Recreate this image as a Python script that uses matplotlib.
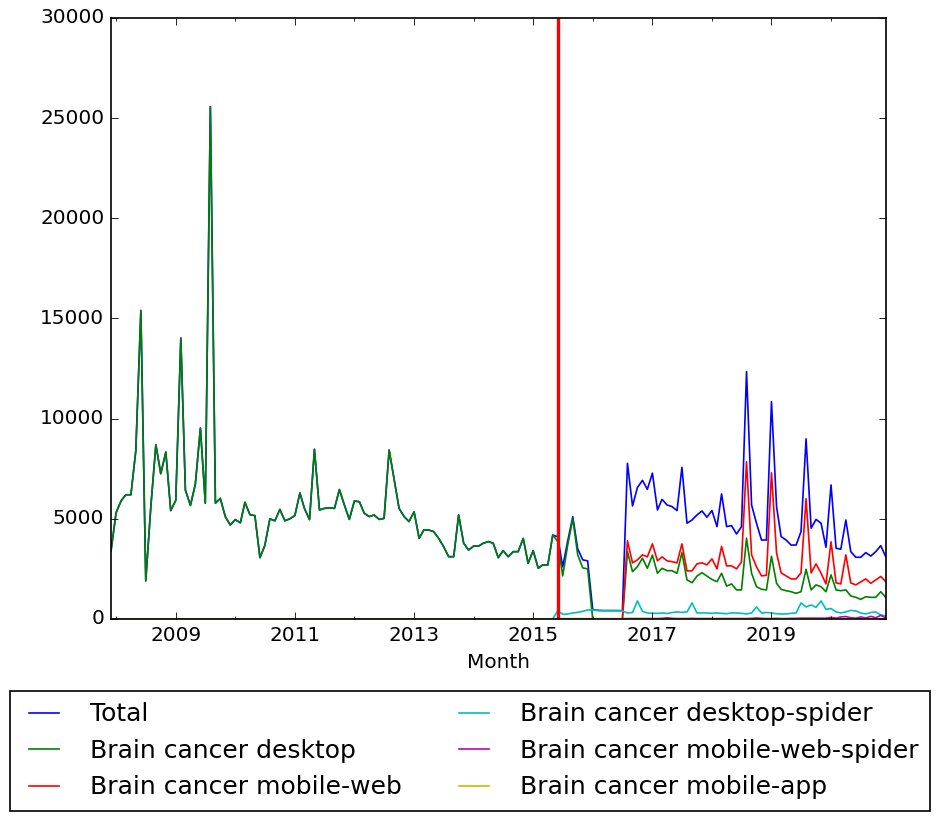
import pandas as pd
import numpy as np
import matplotlib
matplotlib.use('Agg')
import matplotlib.pyplot as plt
import matplotlib.dates as mdates
import matplotlib.ticker as mticker

# monthly page views, Dec 2007 .. Dec 2020
months = pd.date_range('2007-12-01', periods=157, freq='MS')

desktop = [
    3400, 5300, 5900, 6200, 6200, 8400, 15400, 1900, 5600, 8700,
    7250, 8330, 5410, 5920, 14020, 6430, 5670, 6730, 9530, 5780,
    25570, 5780, 6020, 5100, 4690, 4960, 4800, 5820, 5200, 5160,
    3060, 3670, 5000, 4900, 5470, 4900, 5000, 5160, 6290, 5510,
    4960, 8470, 5440, 5520, 5550, 5520, 6460, 5680, 4970, 5890,
    5850, 5280, 5110, 5190, 4970, 5020, 8430, 6940, 5520, 5110,
    4860, 5350, 4020, 4440, 4440, 4360, 4020, 3610, 3110, 3110,
    5190, 3780, 3440, 3640, 3640, 3780, 3860, 3780, 3060, 3410,
    3110, 3360, 3360, 4020, 2780, 3410, 2530, 2700, 2700, 4190,
    3860, 2150, 3700, 5000, 3200, 2550, 2500,
    0, 0, 0, 0, 0, 0, 0,
    3360, 2360, 2610, 3030, 2530, 3190, 2280, 2530, 2410, 2410,
    2280, 3310, 1950, 1810, 2140, 2310, 2140, 1970, 1860, 2280,
    1640, 1750, 1450, 1450, 4030, 2280, 1610, 1480, 1450, 3130,
    1780, 1480, 1410, 1360, 1280, 1360, 2480, 1450, 1700, 1610,
    1360, 2200, 1450, 1410, 1450, 1150, 1080, 980, 1110, 1080,
    1080, 1360, 1080,
]

mobile_web = [0] * 104 + [
    3900, 2800, 2950, 3200, 3100, 3750, 2900, 3100, 2900, 2860,
    2800, 3750, 2400, 2400, 2750, 2800, 2700, 3000, 2500, 3620,
    2650, 2650, 2500, 2850, 7850, 3200, 2600, 2150, 2180, 7300,
    3300, 2300, 2150, 2000, 2000, 2300, 6000, 2300, 2750, 2280,
    1750, 3850, 1800, 1750, 3200, 1800, 1700, 1850, 2000, 1780,
    1950, 2120, 1870,
]

desktop_spider = [0] * 90 + [
    416, 230, 250, 300, 330, 380, 450, 450, 420, 410,
    410, 410, 410, 400, 300, 320, 900, 380, 300, 280,
    280, 300, 270, 320, 350, 330, 350, 800, 300, 300,
    300, 280, 300, 280, 260, 300, 300, 280, 250, 300,
    600, 300, 320, 300, 260, 250, 250, 280, 300, 800,
    600, 700, 580, 900, 480, 520, 350, 300, 350, 430,
    400, 300, 250, 320, 350, 200, 150,
]

mobile_web_spider = [0] * 90 + [
    10, 10, 15, 15, 10, 10, 10, 10, 10, 10,
    10, 10, 10, 10, 20, 20, 25, 20, 20, 20,
    20, 30, 60, 30, 20, 20, 20, 30, 20, 20,
    20, 20, 20, 20, 20, 20, 20, 20, 20, 30,
    50, 30, 20, 20, 30, 20, 20, 30, 30, 40,
    40, 40, 40, 40, 40, 80, 40, 100, 120, 60,
    40, 100, 50, 130, 60, 180, 60,
]

mobile_app = [0] * 90 + [10] * 67

total = desktop[:90] + [
    4100, 2600, 3900, 5100, 3500, 2950, 2900,
    470, 430, 420, 420, 420, 420, 410,
    7770, 5640, 6560, 6920, 6470, 7280, 5440, 5970, 5690, 5610,
    5410, 7570, 4780, 4940, 5190, 5390, 5080, 5410, 4610, 6240,
    4610, 4660, 4240, 4610, 12350, 5690, 4780, 3940, 3940, 10850,
    5610, 4110, 3940, 3690, 3690, 4360, 8990, 4530, 4970, 4780,
    3580, 6690, 3530, 3480, 4940, 3360, 3080, 3080, 3310, 3140,
    3360, 3660, 3110,
]

series = [
    ('Total', total, 'b'),
    ('Brain cancer desktop', desktop, 'g'),
    ('Brain cancer mobile-web', mobile_web, 'r'),
    ('Brain cancer desktop-spider', desktop_spider, 'c'),
    ('Brain cancer mobile-web-spider', mobile_web_spider, 'm'),
    ('Brain cancer mobile-app', mobile_app, 'y'),
]

plt.style.use('classic')
plt.rcParams['figure.facecolor'] = 'white'
plt.rcParams['savefig.facecolor'] = 'white'

fig = plt.figure(figsize=(940 / 120, 817 / 120), dpi=120)
ax = fig.add_axes([0.1181, 0.2424, 0.8241, 0.7356])

for name, vals, col in series:
    ax.plot(months, vals, color=col, linewidth=1.0, label=name)

ax.axvline(pd.Timestamp('2015-06-01'), color='r', linewidth=2)

ax.set_xlim(months[0], months[-1])
ax.set_ylim(0, 30000)
ax.yaxis.set_major_locator(mticker.MultipleLocator(5000))

major_years = [pd.Timestamp(f'{y}-01-01') for y in range(2009, 2021, 2)]
ax.xaxis.set_major_locator(mticker.FixedLocator(mdates.date2num(major_years)))
ax.xaxis.set_minor_locator(mdates.YearLocator(1))
ax.xaxis.set_major_formatter(mdates.DateFormatter('%Y'))
ax.set_xlabel('Month')

fig.legend(loc='upper left', bbox_to_anchor=(0.0106, 0.0122, 0.9787, 0.1420),
           mode='expand', ncol=2, fontsize=15, handlelength=1.8,
           handletextpad=0.95, labelspacing=0.5, borderpad=0.45,
           borderaxespad=0.0)

fig.savefig('out.png', dpi=120)
